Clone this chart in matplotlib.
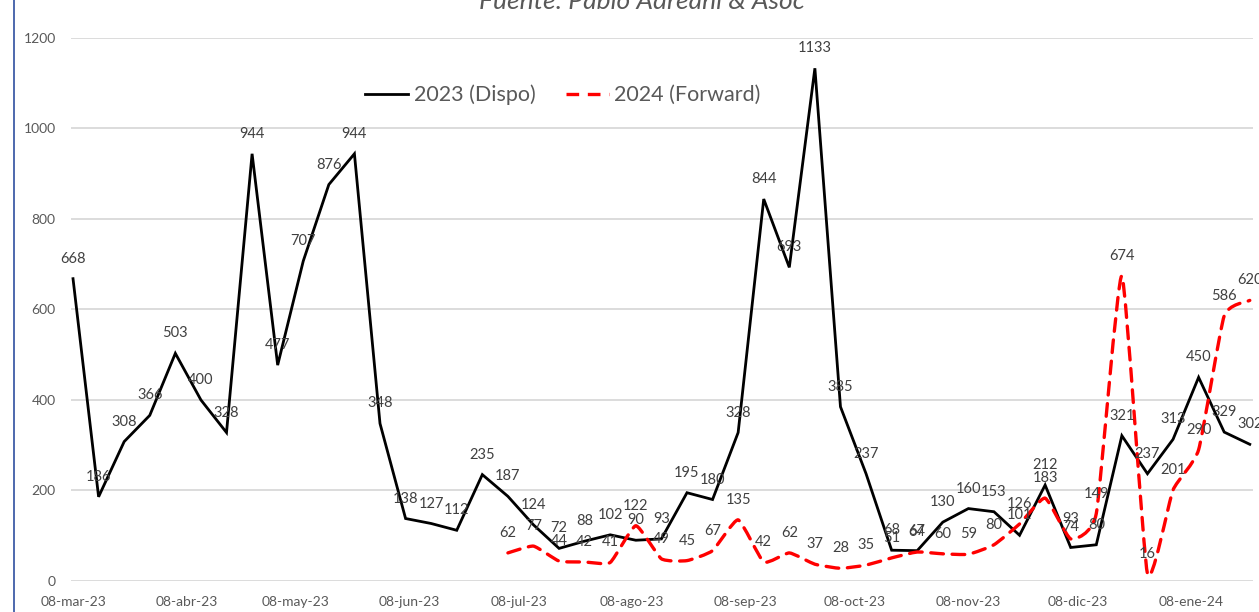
import numpy as np
import pandas as pd
import matplotlib
matplotlib.use("Agg")
import matplotlib.pyplot as plt
import matplotlib.dates as mdates
from matplotlib.path import Path
from matplotlib.patches import PathPatch
from matplotlib.lines import Line2D

plt.rcParams['font.family'] = ['Lato', 'DejaVu Sans']

# weekly series, starting 08-mar-23
dispo_2023 = [668, 186, 308, 366, 503, 400, 328, 944, 477, 707, 876, 944, 348,
              138, 127, 112, 235, 187, 124, 72, 88, 102, 90, 93, 195, 180, 328,
              844, 693, 1133, 385, 237, 68, 67, 130, 160, 153, 101, 212, 74, 80,
              321, 237, 313, 450, 329, 302]
forward_2024 = [62, 77, 44, 42, 41, 122, 49, 45, 67, 135, 42, 62, 37, 28, 35,
                51, 64, 60, 59, 80, 126, 183, 93, 149, 674, 16, 201, 290, 586, 620]
forward_start = 17  # index of first forward week

tick_dates = ['2023-03-08', '2023-04-08', '2023-05-08', '2023-06-08', '2023-07-08',
              '2023-08-08', '2023-09-08', '2023-10-08', '2023-11-08', '2023-12-08',
              '2024-01-08']
tick_labels = ['08-mar-23', '08-abr-23', '08-may-23', '08-jun-23', '08-jul-23',
               '08-ago-23', '08-sep-23', '08-oct-23', '08-nov-23', '08-dic-23',
               '08-ene-24']

dates = pd.date_range('2023-03-08', periods=len(dispo_2023), freq='7D')
xd = mdates.date2num(dates.to_pydatetime())
xf = xd[forward_start:forward_start + len(forward_2024)]

fig = plt.figure(figsize=(12.59, 6.12), dpi=100)
ax = fig.add_axes([0.0564, 0.0507, 0.9386, 0.8873])

ax.plot(xd, dispo_2023, color='black', lw=2.0, solid_joinstyle='miter', zorder=3)


def smooth_path(x, y, t=0.08):
    # cubic bezier through every point (like excel's smoothed line)
    x = np.asarray(x, float)
    y = np.asarray(y, float)
    verts = [(x[0], y[0])]
    codes = [Path.MOVETO]
    n = len(x)
    for i in range(n - 1):
        x0, y0 = (x[i - 1], y[i - 1]) if i > 0 else (x[i], y[i])
        x3, y3 = (x[i + 2], y[i + 2]) if i + 2 < n else (x[i + 1], y[i + 1])
        c1 = (x[i] + (x[i + 1] - x0) * t, y[i] + (y[i + 1] - y0) * t)
        c2 = (x[i + 1] - (x3 - x[i]) * t, y[i + 1] - (y3 - y[i]) * t)
        verts += [c1, c2, (x[i + 1], y[i + 1])]
        codes += [Path.CURVE4] * 3
    return Path(verts, codes)


red_style = dict(color='#FF0000', lw=2.4, linestyle=(0, (3.8, 2.6)))
ax.add_patch(PathPatch(smooth_path(xf, forward_2024), facecolor='none',
                       edgecolor='#FF0000', lw=2.4, linestyle=(0, (3.8, 2.6)),
                       capstyle='round', zorder=3))

for x, v in zip(xd, dispo_2023):
    ax.annotate(str(v), (x, v), xytext=(0, 20), textcoords='offset pixels',
                ha='center', va='center', fontsize=10.5, color='#404040', zorder=4)
for x, v in zip(xf, forward_2024):
    ax.annotate(str(v), (x, v), xytext=(0, 20), textcoords='offset pixels',
                ha='center', va='center', fontsize=10.5, color='#404040', zorder=4)

ax.set_ylim(0, 1200)
ax.set_yticks(range(0, 1201, 200))
ax.set_xlim(xd[0] - 0.55, xd[-1] + 0.8)
ax.set_xticks(mdates.date2num(pd.to_datetime(tick_dates).to_pydatetime()))
ax.set_xticklabels(tick_labels)
ax.tick_params(axis='both', length=0, labelsize=10, labelcolor='#595959')
ax.tick_params(axis='x', pad=11)
ax.tick_params(axis='y', pad=11)
for s in ax.spines.values():
    s.set_visible(False)
ax.grid(axis='y', color='#d9d9d9', lw=1.3)
ax.set_axisbelow(True)

handles = [Line2D([], [], color='black', lw=2.0),
           Line2D([], [], **red_style)]
fig.legend(handles, ['2023 (Dispo)', '2024 (Forward)'], loc='center',
           bbox_to_anchor=(0.447, 0.845), ncol=2, frameon=False, fontsize=15.5,
           handlelength=2.0, columnspacing=1.4, handletextpad=0.25,
           labelcolor='#595959')

fig.text(0.51, 0.985, 'Fuente: Pablo Adreani & Asoc', ha='center', va='baseline',
         fontsize=19, style='italic', color='#595959')

fig.add_artist(Line2D([14 / 1259, 14 / 1259], [0, 1], color='#2f4f9f', lw=1.2))

fig.savefig('out.png', dpi=100)
